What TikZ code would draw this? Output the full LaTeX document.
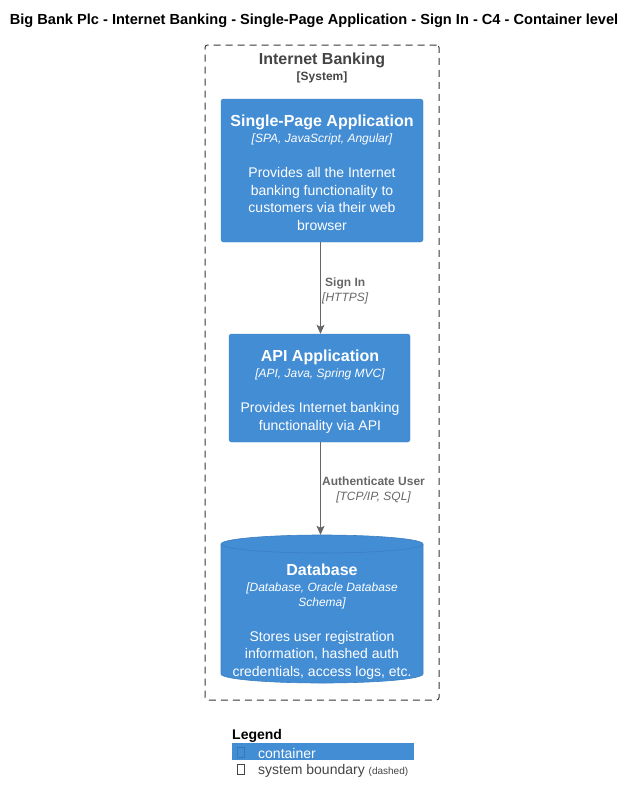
\documentclass[tikz,border=0pt]{standalone}
\usepackage{fontspec}
\setmainfont{Liberation Sans}
\usetikzlibrary{arrows.meta}
\definecolor{cblue}{HTML}{438DD5}
\definecolor{cborder}{HTML}{3C7FC0}
\definecolor{dgray}{HTML}{444444}
\definecolor{agray}{HTML}{666666}
\newcommand{\fsz}[2]{\fontsize{#1}{#2}\selectfont}
\begin{document}
\begin{tikzpicture}[x=1pt,y=-1pt,
  container/.style={draw=cborder, fill=cblue, rounded corners=2.5pt, inner sep=0pt},
  ctitle/.style={text=white, font=\fsz{16}{19}\bfseries, inner sep=0pt},
  ctech/.style={text=white, font=\fsz{12}{15}\itshape, inner sep=0pt, align=center},
  cdesc/.style={text=white, font=\fsz{14}{17.6}, inner sep=0pt, align=center},
  rel/.style={draw=agray, line width=0.9pt, -{Stealth[length=9pt,width=8pt,inset=2pt]}},
  rlabel/.style={text=agray, font=\fsz{12}{15}, inner sep=0pt, align=center, anchor=west},
  boundary/.style={draw=dgray!80!black, dash pattern=on 7pt off 5pt, line width=1pt, rounded corners=2.5pt, fill=none}
]
\useasboundingbox (0,0) rectangle (636,803);

% title
\node[font=\fsz{14.6}{17}\bfseries, inner sep=0pt] (title) at (314,21) {Big Bank Plc - Internet Banking - Single-Page Application - Sign In - C4 - Container level};

% system boundary
\node[boundary, minimum width=234pt, minimum height=655pt, inner sep=0pt] (ib) at (322,372.5) {};
\node[text=dgray, font=\fsz{16}{19}\bfseries, inner sep=0pt] (ibt) at (322,60) {Internet Banking};
\node[text=dgray, font=\fsz{12}{15}\bfseries, inner sep=0pt] (ibs) at (322,77) {[System]};

% SPA
\node[container, minimum width=202pt, minimum height=143pt] (spa) at (322,170.5) {};
\node[ctitle] (spat) at (322,122) {Single-Page Application};
\node[ctech] (spatech) at (322,139) {[SPA, JavaScript, Angular]};
\node[cdesc] (spad) at (322,199) {Provides all the Internet\\banking functionality to\\customers via their web\\browser};

% API
\node[container, minimum width=181pt, minimum height=108pt] (api) at (319.5,388) {};
\node[ctitle] (apit) at (320,357) {API Application};
\node[ctech] (apitech) at (320,374) {[API, Java, Spring MVC]};
\node[cdesc] (apid) at (320,418) {Provides Internet banking\\functionality via API};

% Database cylinder
\path[draw=cborder, fill=cblue, line width=0.6pt]
  (221,544) -- (221,674) arc[start angle=180, end angle=360, x radius=101pt, y radius=9pt]
  -- (423,544) arc[start angle=0, end angle=180, x radius=101pt, y radius=9pt] -- cycle;
\draw[cborder, line width=0.6pt] (221,544) arc[start angle=180, end angle=360, x radius=101pt, y radius=9pt];
\node[inner sep=0pt, minimum width=202pt, minimum height=148pt] (db) at (322,609) {};
\node[ctitle] (dbt) at (322,570) {Database};
\node[ctech] (dbtech) at (322,595.5) {[Database, Oracle Database\\Schema]};
\node[cdesc] (dbd) at (322,655) {Stores user registration\\information, hashed auth\\credentials, access logs, etc.};

% relations
\coordinate (ax) at (320.5,0);
\draw[rel] (spa.south -| ax) -- (api.north -| ax);
\draw[rel] (api.south -| ax) -- (db.north -| ax);
\node[rlabel] (l1) at (322,290.5) {{\bfseries Sign In}\\{\itshape [HTTPS]}};
\node[rlabel] (l2) at (322,490) {{\bfseries Authenticate User}\\{\itshape [TCP/IP, SQL]}};

% legend
\node[font=\fsz{14}{17}\bfseries, inner sep=0pt, anchor=west] (leg) at (232,736) {Legend};
\node[fill=cblue, minimum width=182pt, minimum height=17pt, inner sep=0pt] (legc) at (323,751.5) {};
\node[draw=cblue!85!black, line width=0.4pt, minimum width=7pt, minimum height=10pt, inner sep=0pt] (g1) at (240.5,752) {};
\node[text=white, font=\fsz{14}{17}, inner sep=0pt, anchor=west] (legct) at (258,753) {container};
\node[draw=dgray, line width=0.6pt, minimum width=7pt, minimum height=10pt, inner sep=0pt] (g2) at (240.5,769.5) {};
\node[text=dgray, font=\fsz{14}{17}, inner sep=0pt, anchor=west] (legbt) at (258,771) {system boundary {\fsz{10}{11}(dashed)}};
\end{tikzpicture}
\end{document}
